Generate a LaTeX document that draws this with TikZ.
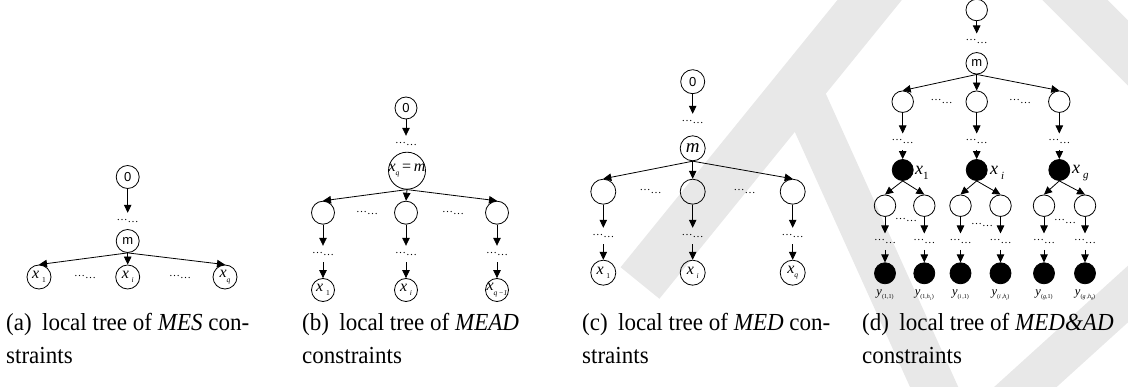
\documentclass[tikz,border=0pt]{standalone}
\usepackage{fontspec}
\setmainfont{Liberation Serif}
\newfontfamily\sansfnt{Liberation Sans}
\usetikzlibrary{arrows.meta}

% zero-width label so the circle keeps its size
\newcommand\zw[1]{\makebox[0pt]{#1}}
\newcommand\ix{\textit{x}}
\newcommand\sub[1]{\raisebox{-0.28em}{\fontsize{7.5}{7.5}\selectfont #1}}
\newcommand\ssub[1]{\raisebox{-0.2em}{\fontsize{4}{4}\selectfont #1}}
\newcommand\dd{\raisebox{2.5pt}{…}…}
\newcommand\captext[1]{\scalebox{0.94}[1]{#1}}

\begin{document}
\begin{tikzpicture}[x=1pt,y=-1pt,
  vx/.style={circle,draw,line width=0.8pt,inner sep=0pt,minimum size=#1},
  vx/.default=23pt,
  bk/.style={vx=#1,fill=black},
  bk/.default=21pt,
  arr/.style={-{Triangle[length=8pt,width=7.5pt]},line width=0.8pt},
  dts/.style={inner sep=0pt,minimum height=16pt,font=\fontsize{11}{11}\selectfont},
  sf/.style={font=\sansfnt\fontsize{13}{13}\selectfont},
  lfont/.style={font=\fontsize{16}{16}\selectfont},
  xl/.style={font=\fontsize{18}{18}\selectfont,anchor=west,inner sep=0pt},
  yl/.style={font=\fontsize{12.5}{12.5}\selectfont,inner sep=0pt},
  captxt/.style={anchor=base west,inner sep=0pt,font=\fontsize{24.5}{24.5}\selectfont},
  wm/.style={line width=#1,color=black!9},
]
\useasboundingbox (0,0) rectangle (1128,387);

% faint background strokes
\draw[wm=50pt] (894,-30) -- (640,283);
\draw[wm=44pt] (800,90) -- (940,400);
\draw[wm=46pt] (1045,-30) -- (1160,85);
\draw[wm=42pt] (1000,410) -- (1160,265);

% ---------- (a) ----------
\node[vx,sf] (a0) at (127.7,177) {0};
\node[dts] (ad) at (127.7,221) {\dd};
\node[vx,sf] (am) at (127.7,241) {m};
\node[vx=24pt,lfont] (ax1) at (39,277) {\zw{\ix\,\sub{1}}};
\node[vx=24pt,lfont] (axi) at (127.7,277) {\zw{\ix\,\sub{\itshape i}}};
\node[vx=24pt,lfont] (axq) at (225,277) {\zw{\ix\sub{\itshape q}}};
\node[dts] (adl) at (85,277) {\dd};
\node[dts] (adr) at (180,277) {\dd};
\draw[arr] (a0) -- (ad.north);
\draw[arr] (am.south) -- (ax1.north);
\draw[arr] (am.south) -- (axi.north);
\draw[arr] (am.south) -- (axq.north);

% ---------- (b) ----------
\node[vx=22pt,sf] (b0) at (406,108) {0};
\node[dts] (bd) at (406,144) {\dd};
\node[vx=37pt,lfont] (bm) at (407,170.7) {\zw{\ix\sub{\itshape q}\,=\,\textit{m}}};
\node[dts] (bdl) at (367,213) {\dd};
\node[dts] (bdr) at (453,213) {\dd};
\foreach \k/\xx in {1/323,2/406,3/497}{
  \node[vx] (bc\k) at (\xx,212.7) {};
  \node[dts] (bd\k) at (\xx,254) {\dd};
}
\node[vx,lfont] (bx1) at (323,290) {\zw{\ix\,\sub{1}}};
\node[vx,lfont] (bxi) at (406,290) {\zw{\ix\,\sub{\itshape i}}};
\node[vx,lfont] (bxq) at (497,290) {\zw{\ix\sub{\itshape q\,−1}}};
\draw[arr] (b0) -- (bd.north);
\foreach \k/\leafname in {1/bx1,2/bxi,3/bxq}{
  \draw[arr] (bm.south) -- (bc\k.north);
  \draw[arr] (bc\k) -- (bd\k.north);
  \draw[arr] (bd\k.south) -- (\leafname);
}

% ---------- (c) ----------
\node[vx=24pt,sf] (c0) at (692.7,81.7) {0};
\node[dts] (cd) at (692.7,122) {\dd};
\node[vx=25pt,font=\fontsize{19}{19}\selectfont] (cm) at (692.7,148.3) {\textit{m}};
\node[dts] (cdl) at (650.5,191.7) {\dd};
\node[dts] (cdr) at (744.7,191.7) {\dd};
\foreach \k/\xx in {1/603.3,2/692.7,3/792.7}{
  \node[vx=25pt] (cc\k) at (\xx,191.7) {};
  \node[dts] (cd\k) at (\xx,236) {\dd};
}
\node[vx=25pt,lfont] (cx1) at (603.3,272.7) {\zw{\ix\,\sub{1}}};
\node[vx=25pt,lfont] (cxi) at (692.7,272.7) {\zw{\ix\,\sub{\itshape i}}};
\node[vx=25pt,lfont] (cxq) at (792.7,272.7) {\zw{\ix\sub{\itshape q}}};
\draw[arr] (c0) -- (cd.north);
\foreach \k/\leafname in {1/cx1,2/cxi,3/cxq}{
  \draw[arr] (cm.south) -- (cc\k.north);
  \draw[arr] (cc\k) -- (cd\k.north);
  \draw[arr] (cd\k.south) -- (\leafname);
}

% ---------- (d) ----------
\node[vx=21.5pt] (d0) at (976.7,10) {};
\node[dts] (dd) at (976.7,41.7) {\dd};
\node[vx=21.5pt,sf] (dm) at (976.7,63.3) {m};
\node[dts] (ddl) at (941.7,101.7) {\dd};
\node[dts] (ddr) at (1020,101.7) {\dd};
\draw[arr] (d0) -- (dd.north);
\foreach \k/\xx in {1/902.7,2/976.7,3/1059.3}{
  \node[vx=21.5pt] (dc\k) at (\xx,101.7) {};
  \node[dts] (dd\k) at (\xx,141.7) {\dd};
  \node[bk] (X\k) at (\xx,170) {};
  \draw[arr] (dm.south) -- (dc\k.north);
  \draw[arr] (dc\k) -- (dd\k.north);
  \draw[arr] (dd\k.south) -- (X\k);
}
\node[xl] (lx1) at (915,173) {\ix\sub{\fontsize{11}{11}\selectfont 1}};
\node[xl] (lxi) at (990,173) {\ix\,\sub{\fontsize{11}{11}\selectfont\itshape i}};
\node[xl] (lxg) at (1072,173) {\ix\,\sub{\fontsize{11}{11}\selectfont\itshape g}};

\node[dts] (pd1) at (906,220) {\dd};
\node[dts] (pd2) at (982,225) {\dd};
\node[dts] (pd3) at (1065,221.7) {\dd};

\foreach \k/\xx/\p in {1/885/1,2/924.3/1,3/960.5/2,4/1000.5/2,5/1044/3,6/1085/3}{
  \node[vx=21.5pt] (g\k) at (\xx,205.7) {};
  \node[dts] (gd\k) at (\xx,241.7) {\dd};
  \node[bk] (Y\k) at (\xx,273.3) {};
  \draw[arr] (X\p.south) -- (g\k.north);
  \draw[arr] (g\k) -- (gd\k.north);
  \draw[arr] (gd\k.south) -- (Y\k);
}
\node[yl] (ly1) at (885,295) {\textit{y}\sub{\fontsize{6}{6}\selectfont(1,1)}};
\node[yl] (ly2) at (924.3,295) {\textit{y}\sub{\fontsize{6}{6}\selectfont(1,\textit{h}\ssub{1})}};
\node[yl] (ly3) at (960.5,295) {\textit{y}\sub{\fontsize{6}{6}\selectfont(\textit{i}\,,1)}};
\node[yl] (ly4) at (1000.5,295) {\textit{y}\sub{\fontsize{6}{6}\selectfont(\textit{i}\,,\textit{h}\ssub{\itshape i})}};
\node[yl] (ly5) at (1044,295) {\textit{y}\sub{\fontsize{6}{6}\selectfont(\textit{g},1)}};
\node[yl] (ly6) at (1085,295) {\textit{y}\sub{\fontsize{6}{6}\selectfont(\textit{g}\,,\textit{h}\ssub{\itshape g})}};

% ---------- captions ----------
\node[captxt] (ca1) at (6,331) {\captext{(a)\hspace{0.45em}local tree of \textit{MES} con-}};
\node[captxt] (ca2) at (6,364) {\captext{straints}};
\node[captxt] (cb1) at (302,331) {\captext{(b)\hspace{0.45em}local tree of \textit{MEAD}}};
\node[captxt] (cb2) at (302,364) {\captext{constraints}};
\node[captxt] (cc1) at (582,331) {\captext{(c)\hspace{0.45em}local tree of \textit{MED} con-}};
\node[captxt] (cc2) at (582,364) {\captext{straints}};
\node[captxt] (cd1) at (862,331) {\captext{(d)\hspace{0.45em}local tree of \textit{MED\&AD}}};
\node[captxt] (cd2) at (862,364) {\captext{constraints}};
\end{tikzpicture}
\end{document}
